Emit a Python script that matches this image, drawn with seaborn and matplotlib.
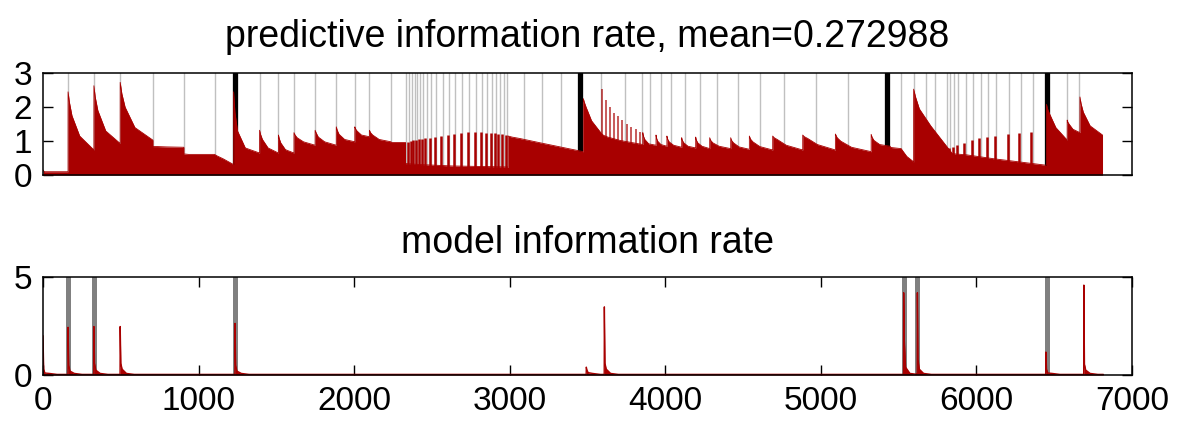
import numpy as np
import pandas as pd
import seaborn as sns
import matplotlib
matplotlib.use("Agg")
import matplotlib.pyplot as plt

# ---------------- data ----------------
# event markers (top panel)
gray_events = [161, 327, 496, 706, 905, 1103, 1392, 1513, 1613, 1749, 1885, 2004, 2098, 2237,
               2333, 2352, 2370, 2388, 2406, 2425, 2444, 2466, 2494, 2528, 2568, 2610, 2650,
               2694, 2740, 2782, 2822, 2856, 2885, 2910, 2935, 2960, 2983,
               3091, 3209, 3327, 3585, 3740, 3853, 3903, 3971, 4035, 4125, 4220, 4333, 4464,
               4606, 4765, 4969, 5172, 5516, 5596, 5677, 5735, 5812, 5832, 5856, 5882, 5930,
               5978, 6028, 6075, 6128, 6212, 6284, 6364, 6583, 6660]
black_events = [1234, 3453, 5425, 6450]

# predictive information rate: one "tooth" per segment
# start x, value at start, at 5%, at 15%, at 45%, at end of segment
tooth_x = [0, 161, 327, 496, 706, 905, 1103, 1225, 1392, 1513, 1613, 1749, 1885, 2004, 2098,
           2237, 2330, 2990, 3473, 3590, 3855, 3940, 4010, 4105, 4195, 4285, 4420, 4540,
           4690, 4883, 5093, 5323, 5445, 5516, 5596, 5840, 6450, 6583, 6665]
tooth_peak = [0.15, 2.45, 2.63, 2.73, 0.84, 0.62, 0.61, 2.45, 1.32, 1.18, 1.25, 1.32, 1.42, 1.42, 1.32,
              0.97, 0.34, 1.15, 2.25, 1.22, 1.25, 1.18, 1.15, 1.10, 1.12, 1.10, 1.10, 1.15,
              1.15, 1.18, 1.21, 1.20, 0.82, 0.78, 2.53, 0.64, 2.08, 1.62, 2.30]
tooth_q0 = [0.10, 2.15, 2.30, 2.40, 0.84, 0.62, 0.59, 1.85, 1.20, 1.08, 1.18, 1.24, 1.32, 1.36, 1.25,
            0.96, 0.33, 1.12, 2.15, 1.17, 1.15, 1.09, 1.06, 1.02, 1.03, 1.02, 1.02, 1.06,
            1.10, 1.13, 1.10, 1.11, 0.82, 0.75, 2.30, 0.62, 1.95, 1.56, 2.10]
tooth_q1 = [0.10, 1.75, 1.90, 2.00, 0.84, 0.61, 0.56, 1.30, 1.05, 0.95, 1.10, 1.12, 1.20, 1.30, 1.18,
            0.96, 0.31, 1.08, 2.00, 1.12, 1.05, 1.00, 0.98, 0.95, 0.95, 0.95, 0.95, 0.98,
            1.05, 1.08, 1.00, 1.02, 0.81, 0.70, 1.95, 0.60, 1.80, 1.50, 1.85]
tooth_q2 = [0.10, 1.15, 1.30, 1.40, 0.83, 0.61, 0.48, 0.80, 0.80, 0.75, 0.98, 0.98, 1.05, 1.18, 1.05,
            0.96, 0.27, 0.94, 1.60, 1.02, 0.92, 0.90, 0.88, 0.85, 0.85, 0.85, 0.83, 0.84,
            0.88, 0.90, 0.82, 0.90, 0.80, 0.55, 1.45, 0.48, 1.40, 1.35, 1.45]
tooth_end = [0.10, 0.74, 0.93, 1.03, 0.82, 0.61, 0.31, 0.65, 0.65, 0.65, 0.88, 0.88, 0.98, 1.13, 0.98,
             0.96, 0.24, 0.69, 1.22, 0.90, 0.88, 0.85, 0.82, 0.80, 0.78, 0.78, 0.76, 0.74,
             0.74, 0.74, 0.69, 0.85, 0.78, 0.39, 0.66, 0.29, 1.03, 1.25, 1.18]
pir_stop = 6810

# narrow spikes inside the dense passages
spike_x = [2344, 2362, 2380, 2398, 2417, 2436, 2458, 2486, 2520, 2560, 2602, 2642, 2686, 2732,
           2774, 2814, 2848, 2877, 2902, 2927, 2952, 2975,
           5824, 5848, 5874, 5920, 5968, 6017, 6065, 6118, 6200, 6272, 6352]
spike_y = [0.98, 1.00, 1.02, 1.03, 1.05, 1.06, 1.08, 1.10, 1.13, 1.16, 1.19, 1.22, 1.25, 1.27,
           1.27, 1.26, 1.25, 1.24, 1.23, 1.21, 1.20, 1.18,
           0.79, 0.84, 0.90, 0.96, 1.02, 1.08, 1.12, 1.16, 1.20, 1.24, 1.28]
hatch_x = [3595, 3621, 3645, 3670, 3697, 3724, 3752, 3780, 3810, 3836]
hatch_y = [2.54, 2.20, 2.00, 1.84, 1.74, 1.62, 1.50, 1.42, 1.35, 1.27]

# model information rate
model_bars = [161, 327, 1234, 5532, 5620, 6450]
mir_x = [0, 161, 327, 496, 1234, 3492, 3608, 5532, 5620, 6446, 6690]
mir_peak = [2.00, 2.43, 2.47, 2.47, 2.63, 0.40, 3.47, 4.19, 4.19, 1.17, 4.58]
mir_tail1 = [0.30, 0.50, 0.60, 0.60, 0.50, 0.25, 0.60, 1.76, 0.80, 0.30, 0.55]
mir_tail2 = [0.10, 0.20, 0.25, 0.30, 0.20, 0.12, 0.30, 0.40, 0.30, 0.10, 0.25]
mir_stop = 6815

mean_pir = 0.272988

# ---------------- build curves ----------------
def teeth_curve(xs, a, a2, b, c, d, stop):
    px, py = [], []
    nxt = xs[1:] + [stop]
    for x0, x1, v0, v05, v1, v2, v3 in zip(xs, nxt, a, a2, b, c, d):
        L = x1 - x0
        px += [x0, x0 + 0.05 * L, x0 + 0.15 * L, x0 + 0.45 * L, x1]
        py += [v0, v05, v1, v2, v3]
    px.append(stop)
    py.append(0)
    return np.array(px), np.array(py)

def spike_curve(xs, pk, t1, t2, stop, base=0.03):
    px, py = [], []
    for x, p, a, b in zip(xs, pk, t1, t2):
        if px:
            px.append(x - 1)
            py.append(base)
        px += [x, x + 4, x + 12, x + 40, x + 90]
        py += [p, a, b, 0.08, base]
    px += [stop, stop]
    py += [base, 0]
    return np.array(px), np.array(py)

pir = pd.DataFrame(dict(zip(["x", "y"], teeth_curve(tooth_x, tooth_peak, tooth_q0, tooth_q1,
                                                     tooth_q2, tooth_end, pir_stop))))
mir = pd.DataFrame(dict(zip(["x", "y"], spike_curve(mir_x, mir_peak, mir_tail1, mir_tail2,
                                                     mir_stop))))

# ---------------- plot ----------------
sns.set_theme(style="ticks")
plt.rcParams['font.family'] = ['Liberation Sans', 'DejaVu Sans']
plt.rcParams['text.color'] = 'black'
plt.rcParams['xtick.color'] = 'black'
plt.rcParams['ytick.color'] = 'black'
red = '#a80000'

fig = plt.figure(figsize=(11.79, 4.23), dpi=100)
ax1 = fig.add_axes([0.0365, 0.586, 0.9237, 0.241])
ax2 = fig.add_axes([0.0365, 0.1135, 0.9237, 0.232])

# top panel
for x in gray_events:
    ax1.axvline(x, color='#c0c0c0', lw=1.0, zorder=1)
for x in black_events:
    ax1.axvline(x, color='black', lw=3.8, zorder=1)
ax1.fill_between(pir.x, 0, pir.y, color=red, lw=0, zorder=2)
sns.lineplot(data=pir, x="x", y="y", ax=ax1, color=red, lw=0.6, estimator=None, sort=False, zorder=2)
ax1.vlines(spike_x, 0, spike_y, color=red, lw=1.8, zorder=2)
ax1.vlines(hatch_x, 0, hatch_y, color=red, lw=1.2, alpha=0.75, zorder=2)
ax1.set_xlim(0, 7000)
ax1.set_ylim(0, 3)
ax1.set_xticks([])
ax1.set_yticks([0, 1, 2, 3])
ax1.set_xlabel("")
ax1.set_ylabel("")
ax1.set_title("predictive information rate, mean=%g" % mean_pir, fontsize=27, pad=19)

# bottom panel
for x in model_bars:
    ax2.axvline(x, color='#808080', lw=3.6, zorder=1)
ax2.fill_between(mir.x, 0, mir.y, color=red, lw=0, zorder=2)
sns.lineplot(data=mir, x="x", y="y", ax=ax2, color=red, lw=1.0, estimator=None, sort=False, zorder=2)
ax2.set_xlim(0, 7000)
ax2.set_ylim(0, 5)
ax2.set_xticks(range(0, 7001, 1000))
ax2.set_yticks([0, 5])
ax2.set_xlabel("")
ax2.set_ylabel("")
ax2.set_title("model information rate", fontsize=27, pad=17)

for ax in (ax1, ax2):
    ax.tick_params(direction='in', length=7, width=1.0, top=True, right=True,
                   labelsize=24, pad=8, color='black')
    for s in ax.spines.values():
        s.set_color('black')
        s.set_linewidth(1.1)
        s.set_visible(True)
ax1.tick_params(axis='x', top=False, bottom=False)

fig.savefig("out.png", dpi=100)
